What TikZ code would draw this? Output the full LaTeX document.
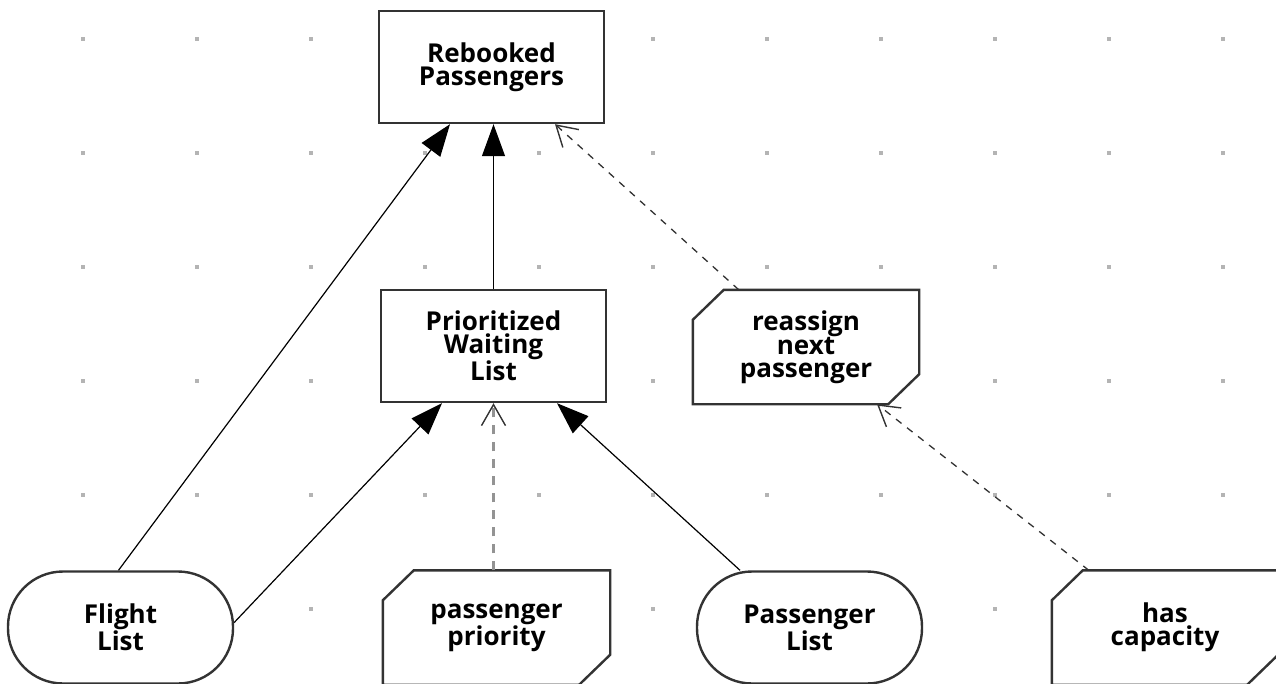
\documentclass[tikz,border=0pt]{standalone}
\usepackage{fontspec}
\setmainfont{Open Sans}
\usetikzlibrary{arrows.meta,calc}
\definecolor{edgec}{HTML}{333333}
\definecolor{dotc}{HTML}{B4B4B4}
\tikzset{
  base/.style={draw=edgec, line width=2.4pt, fill=white, minimum width=225pt, minimum height=112pt,
    align=center, inner sep=0pt, font=\fontsize{26}{23}\selectfont\bfseries},
  boxnode/.style={base, rectangle},
  pillnode/.style={base, rectangle, rounded corners=55pt},
  notchnode/.style={base, rectangle, draw=none},
  notchline/.style={draw=edgec, line width=2.4pt, line join=miter},
  solidflow/.style={draw=black, line width=1.2pt, -{Triangle[length=32pt,width=23pt]}},
  dashflow/.style={draw=edgec, line width=1.3pt, dash pattern=on 7pt off 7pt,
    -{Straight Barb[length=20pt,width=24pt,line width=1.4pt]}},
  grayflow/.style={draw=gray!85, line width=3pt, dash pattern=on 9pt off 8pt,
    -{Straight Barb[length=21pt,width=24pt,line width=1.4pt,color=edgec]}},
}
\newcommand{\notchoutline}[1]{%
  \draw[notchline] ($(#1.north west)+(0,30)$) -- ($(#1.north west)+(31,0)$) -- (#1.north east)
    -- ($(#1.south east)+(0,-30)$) -- ($(#1.south east)+(-31,0)$) -- (#1.south west) -- cycle;}
\begin{document}
\begin{tikzpicture}[x=1pt,y=-1pt]
\useasboundingbox (0,0) rectangle (1276,683);
\clip (0,0) rectangle (1276,683);
\fill[white] (0,0) rectangle (1276,683);
\foreach \i in {0,...,10}{
  \foreach \j in {0,...,5}{
    \fill[dotc] ({83+114*\i-1.6},{39+114*\j-1.6}) rectangle ++(3.2,3.2);
  }
}
\node[boxnode] (reb) at (491.5,67) {Rebooked\\Passengers};
\node[boxnode] (pri) at (493.5,346) {Prioritized\\Waiting\\List};
\node[notchnode, minimum width=224pt] (rea) at (806,347) {reassign\\next\\passenger};
\notchoutline{rea}
\node[pillnode] (fl) at (120.5,627.5) {Flight\\List};
\node[notchnode] (pp) at (496.5,627.5) {passenger\\priority};
\notchoutline{pp}
\node[pillnode] (pl) at (809.5,627.5) {Passenger\\List};
\node[notchnode, minimum width=224pt] (hc) at (1165,627.5) {has\\capacity};
\notchoutline{hc}

\draw[solidflow] ($(fl.north)+(-2,0)$) -- ($(reb.south)+(-41.5,0)$);
\draw[solidflow] (pri.north) -- (pri.north |- reb.south);
\draw[dashflow] ($(rea.north west)+(46,0)$) -- ($(reb.south)+(63.5,0)$);
\draw[solidflow] ($(fl.east)+(0,-5)$) -- ($(pri.south)+(-51.5,0)$);
\draw[grayflow] (pri.south |- pp.north) -- (pri.south);
\draw[solidflow] ($(pl.north)+(-69.5,0)$) -- ($(pri.south)+(63.5,0)$);
\draw[dashflow] ($(hc.north west)+(37,0)$) -- ($(rea.south)+(71,0)$);
\end{tikzpicture}
\end{document}
